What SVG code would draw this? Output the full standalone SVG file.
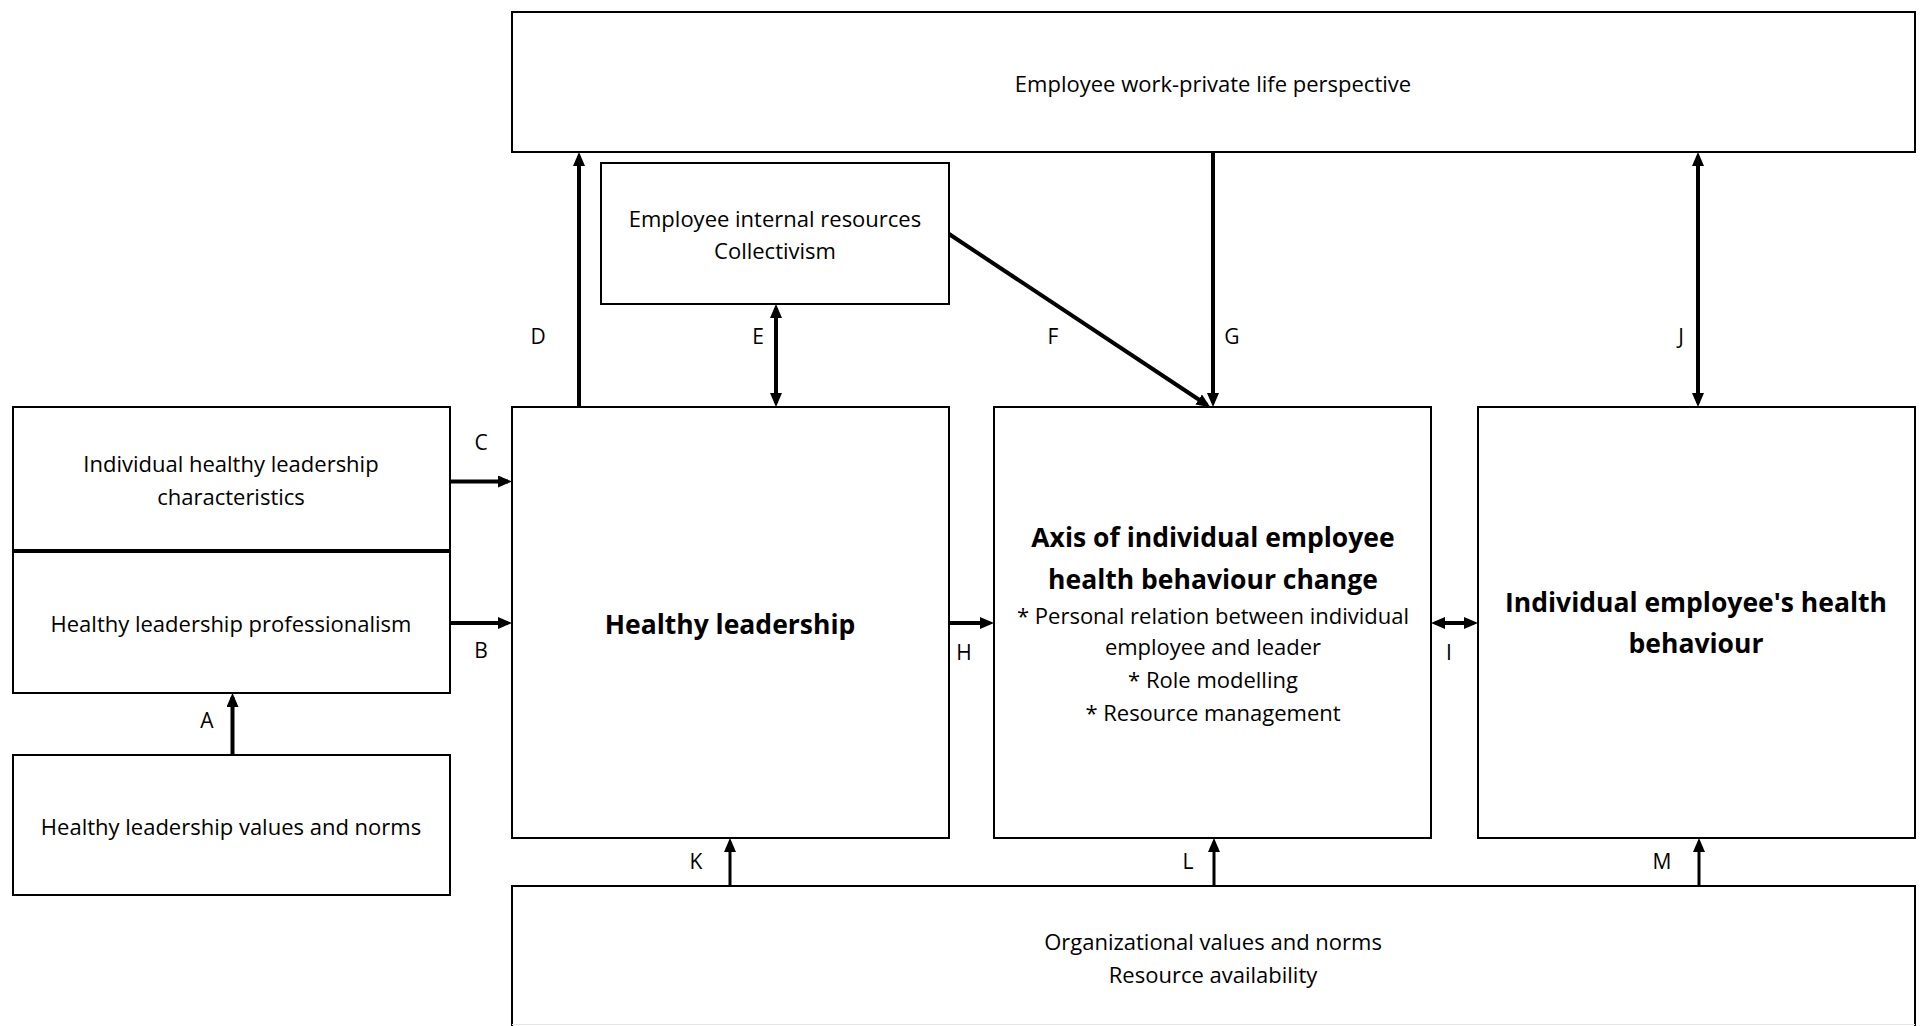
<svg xmlns="http://www.w3.org/2000/svg" width="1924" height="1026" viewBox="0 0 1924 1026">
<style>
  .box { fill: #fff; stroke: #000; stroke-width: 2; }
  .t { font-family: "Open Sans", "Noto Sans", "Liberation Sans", sans-serif; font-size: 22px; fill: #000; text-anchor: middle; }
  .b { font-family: "Open Sans", "Noto Sans", "Liberation Sans", sans-serif; font-size: 26.5px; font-weight: bold; fill: #000; text-anchor: middle; }
  .lbl { font-family: "Open Sans", "Noto Sans", "Liberation Sans", sans-serif; font-size: 21px; fill: #000; text-anchor: middle; }
  .arr { stroke: #000; stroke-width: 4; fill: none; marker-end: url(#ah); }
  .arr2 { stroke: #000; stroke-width: 4; fill: none; marker-end: url(#ah); marker-start: url(#ah); }
  .thin { stroke-width: 3; }
</style>
<defs>
  <marker id="ah" markerUnits="userSpaceOnUse" markerWidth="14" markerHeight="12" viewBox="0 0 14 12" refX="10" refY="6" orient="auto-start-reverse">
    <path d="M0,0 L14,6 L0,12 z" fill="#000"/>
  </marker>
</defs>
<rect width="1924" height="1026" fill="#fff"/>

<g id="work-private">
  <rect class="box" x="512" y="12" width="1403" height="140"/>
  <text class="t" x="1213" y="92">Employee work-private life perspective</text>
</g>
<g id="internal-resources">
  <rect class="box" x="601" y="163" width="348" height="141"/>
  <text class="t" x="775" y="227">Employee internal resources</text>
  <text class="t" x="775" y="259">Collectivism</text>
</g>
<g id="characteristics">
  <rect class="box" x="13" y="407" width="437" height="143"/>
  <text class="t" x="231" y="472">Individual healthy leadership</text>
  <text class="t" x="231" y="505">characteristics</text>
</g>
<g id="professionalism">
  <rect class="box" x="13" y="552" width="437" height="141"/>
  <text class="t" x="231" y="632">Healthy leadership professionalism</text>
</g>
<g id="values-norms">
  <rect class="box" x="13" y="755" width="437" height="140"/>
  <text class="t" x="231" y="835">Healthy leadership values and norms</text>
</g>
<g id="healthy-leadership">
  <rect class="box" x="512" y="407" width="437" height="431"/>
  <text class="b" x="730" y="634">Healthy leadership</text>
</g>
<g id="axis">
  <rect class="box" x="994" y="407" width="437" height="431"/>
  <text class="b" x="1213" y="547">Axis of individual employee</text>
  <text class="b" x="1213" y="589">health behaviour change</text>
  <text class="t" x="1213" y="624">* Personal relation between individual</text>
  <text class="t" x="1213" y="655">employee and leader</text>
  <text class="t" x="1213" y="688">* Role modelling</text>
  <text class="t" x="1213" y="721">* Resource management</text>
</g>
<g id="employee-behaviour">
  <rect class="box" x="1478" y="407" width="437" height="431"/>
  <text class="b" x="1696" y="612">Individual employee's health</text>
  <text class="b" x="1696" y="653">behaviour</text>
</g>
<g id="organizational">
  <rect x="512" y="886" width="1403" height="140" fill="#fff"/>
  <path d="M512,1026 L512,886 L1915,886 L1915,1026" fill="none" stroke="#000" stroke-width="2"/>
  <line x1="512" y1="1024.5" x2="1915" y2="1024.5" stroke="#e6e6e6" stroke-width="1"/>
  <text class="t" x="1213" y="950">Organizational values and norms</text>
  <text class="t" x="1213" y="983">Resource availability</text>
</g>

<g id="connectors">
  <line class="arr" x1="232.5" y1="755" x2="232.5" y2="697"/>
  <line class="arr" x1="450" y1="623" x2="508" y2="623"/>
  <line class="arr" x1="450" y1="481.5" x2="508" y2="481.5"/>
  <line class="arr" x1="579" y1="407" x2="579" y2="156"/>
  <line class="arr2" x1="776" y1="308" x2="776" y2="403"/>
  <line class="arr" x1="949" y1="234" x2="1207" y2="405"/>
  <line class="arr" x1="1213" y1="152" x2="1213" y2="403"/>
  <line class="arr" x1="949" y1="623" x2="990" y2="623"/>
  <line class="arr2" x1="1435" y1="623" x2="1474" y2="623"/>
  <line class="arr2" x1="1698" y1="156" x2="1698" y2="403"/>
  <line class="arr thin" x1="730" y1="886" x2="730" y2="842"/>
  <line class="arr thin" x1="1214" y1="886" x2="1214" y2="842"/>
  <line class="arr thin" x1="1699" y1="886" x2="1699" y2="842"/>
</g>

<g id="labels">
  <text class="lbl" x="207" y="728">A</text>
  <text class="lbl" x="481" y="658">B</text>
  <text class="lbl" x="481" y="450">C</text>
  <text class="lbl" x="538" y="344">D</text>
  <text class="lbl" x="758" y="344">E</text>
  <text class="lbl" x="1053" y="344">F</text>
  <text class="lbl" x="1232" y="344">G</text>
  <text class="lbl" x="964" y="660">H</text>
  <text class="lbl" x="1449" y="660">I</text>
  <text class="lbl" x="1681" y="344">J</text>
  <text class="lbl" x="696" y="869">K</text>
  <text class="lbl" x="1188" y="869">L</text>
  <text class="lbl" x="1662" y="869">M</text>
</g>
</svg>
